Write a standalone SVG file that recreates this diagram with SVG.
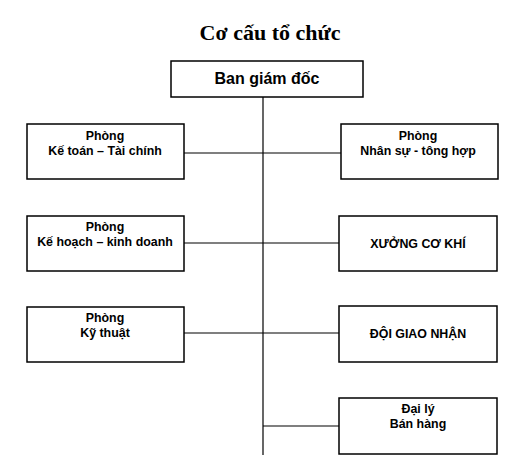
<svg xmlns="http://www.w3.org/2000/svg" width="520" height="462" viewBox="0 0 520 462">
<style>
.box{fill:#fff;stroke:#000;stroke-width:1.5}
.t{font-family:"Liberation Sans",Arial,sans-serif;font-weight:bold;font-size:12.4px;text-anchor:middle;fill:#000}
.title{font-family:"Liberation Serif","Times New Roman",serif;font-weight:bold;font-size:22px;text-anchor:middle;fill:#000}
.c{stroke:#000;stroke-width:1.2;fill:none}
</style>
<rect width="520" height="462" fill="#fff"/>
<text class="title" x="270" y="40">Cơ cấu tổ chức</text>
<g id="connectors">
<line class="c" x1="263" y1="97" x2="263" y2="455"/>
<line class="c" x1="184" y1="153" x2="341" y2="153"/>
<line class="c" x1="184" y1="243" x2="339" y2="243"/>
<line class="c" x1="184" y1="333" x2="339" y2="333"/>
<line class="c" x1="263" y1="426" x2="339" y2="426"/>
</g>
<g id="ban-giam-doc">
<rect class="box" x="171" y="61" width="192" height="36"/>
<text class="t" x="267" y="84" style="font-size:16px">Ban giám đốc</text>
</g>
<g id="ke-toan">
<rect class="box" x="27" y="124" width="157" height="55"/>
<text class="t" x="105" y="140">Phòng</text>
<text class="t" x="105" y="155">Kế toán – Tài chính</text>
</g>
<g id="nhan-su">
<rect class="box" x="341" y="124" width="157" height="55"/>
<text class="t" x="418" y="140">Phòng</text>
<text class="t" x="418" y="155">Nhân sự - tông hợp</text>
</g>
<g id="ke-hoach">
<rect class="box" x="27" y="216" width="157" height="55"/>
<text class="t" x="105" y="231">Phòng</text>
<text class="t" x="105" y="246">Kế hoạch – kinh doanh</text>
</g>
<g id="xuong-co-khi">
<rect class="box" x="339" y="216" width="158" height="55"/>
<text class="t" x="418" y="248">XƯỞNG CƠ KHÍ</text>
</g>
<g id="ky-thuat">
<rect class="box" x="27" y="307" width="157" height="55"/>
<text class="t" x="105" y="322">Phòng</text>
<text class="t" x="105" y="337">Kỹ thuật</text>
</g>
<g id="doi-giao-nhan">
<rect class="box" x="339" y="306" width="158" height="56"/>
<text class="t" x="418" y="338">ĐỘI GIAO NHẬN</text>
</g>
<g id="dai-ly">
<rect class="box" x="339" y="398" width="158" height="56"/>
<text class="t" x="418" y="413">Đại lý</text>
<text class="t" x="418" y="428">Bán hàng</text>
</g>
</svg>
